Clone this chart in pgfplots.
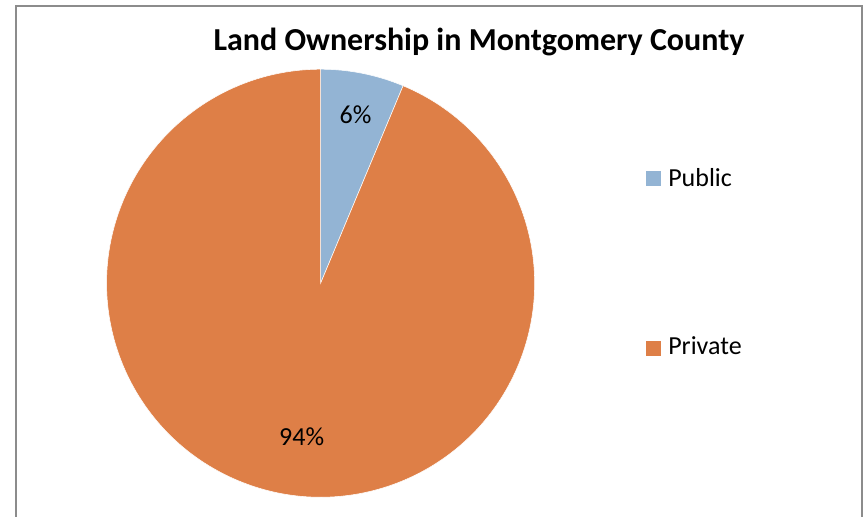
\documentclass[border=0pt]{standalone}
\usepackage{pgfplots}
\pgfplotsset{compat=1.18}
\usepackage{pgfplotstable}
\usepackage{fontspec}
\setmainfont{Carlito}

\definecolor{pubblue}{HTML}{93B4D4}
\definecolor{privorange}{HTML}{DE7F47}
\definecolor{framegray}{HTML}{8C8C8C}

% land ownership shares (percent, labels show them rounded)
\pgfplotstableread{
label   value
Public  6.3
Private 93.7
}\landdata

\begin{document}
\begin{tikzpicture}[x=0.75pt,y=0.75pt]
\pgfplotstablegetelem{0}{value}\of\landdata \let\vpub\pgfplotsretval
\pgfplotstablegetelem{1}{value}\of\landdata \let\vpriv\pgfplotsretval
\pgfmathsetmacro{\apub}{\vpub/(\vpub+\vpriv)*360}
\pgfmathsetmacro{\apriv}{\vpriv/(\vpub+\vpriv)*360}
\pgfmathtruncatemacro{\lpub}{round(\vpub)}
\pgfmathtruncatemacro{\lpriv}{round(\vpriv)}
\path[use as bounding box] (0,0) rectangle (863,517);
\begin{axis}[
    at={(0,0)}, anchor=south west,
    scale only axis,
    width=647.25pt, height=387.75pt,
    xmin=0, xmax=863, ymin=0, ymax=517,
    hide axis, clip=false,
]
% chart frame (bottom edge falls outside the picture)
\draw[framegray, line width=1.5pt]
    (axis cs:15.5,0) -- (axis cs:15.5,510.5) -- (axis cs:862,510.5) -- (axis cs:862,0);

% pie slices, clockwise from 12 o'clock
\fill[pubblue, draw=white, line width=0.4pt] (axis cs:320.6,233.8) -- ++(90:160.5pt)
    arc[start angle=90, delta angle=-\apub, radius=160.5pt] -- cycle;
\fill[privorange, draw=white, line width=0.4pt] (axis cs:320.6,233.8) -- ++({90-\apub}:160.5pt)
    arc[start angle={90-\apub}, delta angle=-\apriv, radius=160.5pt] -- cycle;

% data labels
\node[anchor=base, inner sep=0pt, font=\fontsize{19.5pt}{23pt}\selectfont]
    at (axis cs:355.5,393.7) {\lpub\%};
\node[anchor=base, inner sep=0pt, font=\fontsize{19.5pt}{23pt}\selectfont]
    at (axis cs:301.7,71.3) {\lpriv\%};

% title
\node[anchor=base, inner sep=0pt, font=\bfseries\fontsize{24pt}{29pt}\selectfont]
    at (axis cs:479,466) {Land Ownership in Montgomery County};

% legend
\fill[pubblue] (axis cs:646,331.3) rectangle (axis cs:661,346.3);
\node[anchor=base west, inner sep=0pt, font=\fontsize{19.5pt}{23pt}\selectfont]
    at (axis cs:668,330.3) {Public};
\fill[privorange] (axis cs:646,161) rectangle (axis cs:661,176);
\node[anchor=base west, inner sep=0pt, font=\fontsize{19.5pt}{23pt}\selectfont]
    at (axis cs:668,162) {Private};
\end{axis}
\end{tikzpicture}
\end{document}
